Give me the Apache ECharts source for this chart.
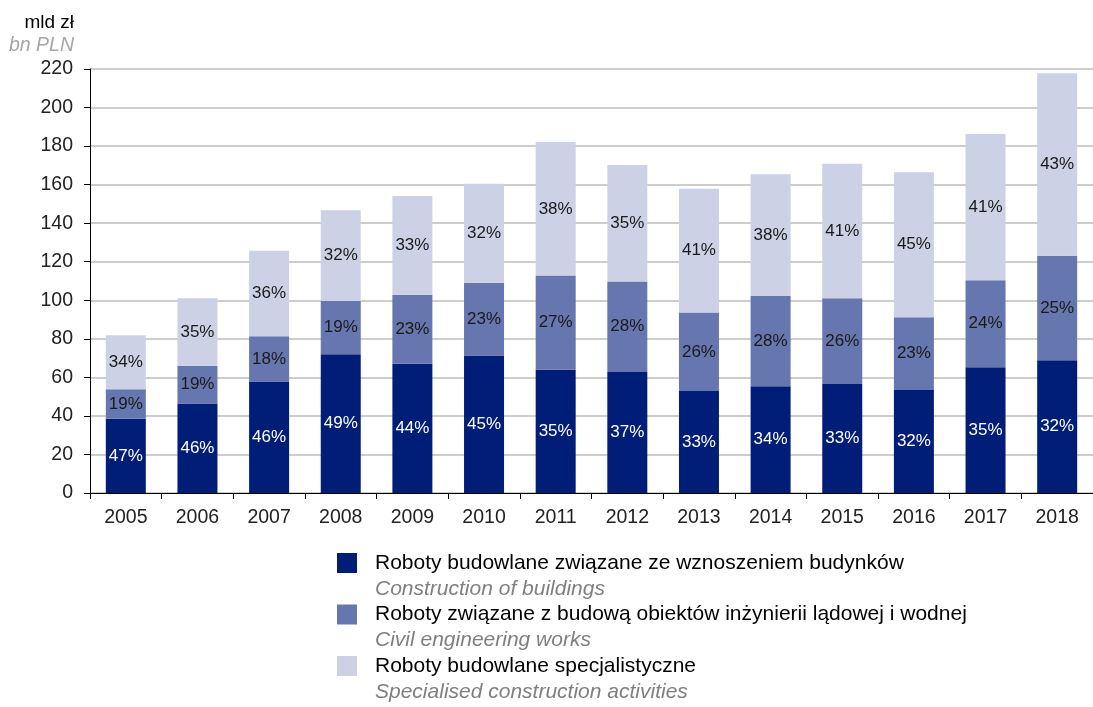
<!DOCTYPE html>
<html>
<head>
<meta charset="utf-8">
<script src="https://cdn.jsdelivr.net/npm/echarts@6/dist/echarts.min.js"></script>
<style>
html,body{margin:0;padding:0;background:#fff;}
#chart{width:1093px;height:707px;}
</style>
</head>
<body>
<div id="chart"></div>
<script>
var years = ['2005','2006','2007','2008','2009','2010','2011','2012','2013','2014','2015','2016','2017','2018'];
var buildings = [38.5, 46.5, 57.8, 72.0, 67.1, 71.4, 64.0, 62.8, 52.9, 55.4, 56.6, 53.5, 65.2, 68.9];
var civil = [15.3, 19.4, 23.5, 27.6, 35.8, 37.7, 48.8, 47.0, 40.7, 46.8, 44.4, 37.7, 45.2, 54.2];
var specialised = [28.0, 35.1, 44.4, 47.1, 51.2, 51.3, 69.3, 60.4, 64.3, 63.2, 69.9, 75.2, 75.9, 94.7];
var buildingsPct = ['47%','46%','46%','49%','44%','45%','35%','37%','33%','34%','33%','32%','35%','32%'];
var civilPct = ['19%','19%','18%','19%','23%','23%','27%','28%','26%','28%','26%','23%','24%','25%'];
var specialisedPct = ['34%','35%','36%','32%','33%','32%','38%','35%','41%','38%','41%','45%','41%','43%'];
var seriesNamesPL = ['Roboty budowlane związane ze wznoszeniem budynków','Roboty związane z budową obiektów inżynierii lądowej i wodnej','Roboty budowlane specjalistyczne'];
var seriesNamesEN = ['Construction of buildings','Civil engineering works','Specialised construction activities'];
var yTicks = [0,20,40,60,80,100,120,140,160,180,200,220];

var FONT = '"Liberation Sans", Arial, sans-serif';
var colors = ['#001E78', '#6676AE', '#CCD1E5'];
var pctArrays = [buildingsPct, civilPct, specialisedPct];
var valArrays = [buildings, civil, specialised];
var labelColors = ['#ffffff', '#1a1a1a', '#1a1a1a'];

var chart = echarts.init(document.getElementById('chart'), null, {renderer: 'canvas'});

var series = valArrays.map(function (arr, si) {
  return {
    name: seriesNamesPL[si],
    type: 'bar',
    stack: 'total',
    barWidth: 40,
    data: arr,
    itemStyle: {color: colors[si]},
    label: {
      show: true,
      position: 'inside',
      fontFamily: FONT,
      fontSize: 17,
      color: labelColors[si],
      formatter: function (p) { return pctArrays[si][p.dataIndex]; }
    },
    emphasis: {disabled: true}
  };
});

var enMap = {};
seriesNamesPL.forEach(function (n, i) { enMap[n] = seriesNamesEN[i]; });

chart.setOption({
  animation: false,
  grid: {left: 90, right: -8, top: 69, bottom: 214, containLabel: false},
  xAxis: {
    type: 'category',
    data: years,
    axisLine: {lineStyle: {color: '#000', width: 1}},
    axisTick: {show: true, length: 6, alignWithLabel: false, lineStyle: {color: '#000'}},
    axisLabel: {fontFamily: FONT, fontSize: 19.5, color: '#222', margin: 15}
  },
  yAxis: {
    type: 'value',
    min: 0,
    max: 220,
    interval: 20,
    name: '{a|mld zł}\n{b|bn PLN}',
    nameLocation: 'end',
    nameGap: 12,
    nameTextStyle: {
      align: 'right',
      verticalAlign: 'bottom',
      padding: [0, 16, 0, 0],
      rich: {
        a: {fontFamily: FONT, fontSize: 19, color: '#000', lineHeight: 23, align: 'right'},
        b: {fontFamily: FONT, fontSize: 19.5, color: '#a6a6a6', fontStyle: 'italic', lineHeight: 23, align: 'right'}
      }
    },
    axisLine: {show: true, lineStyle: {color: '#000', width: 1}},
    axisTick: {show: true, length: 6, lineStyle: {color: '#000'}},
    axisLabel: {
      fontFamily: FONT, fontSize: 19.5, color: '#222', margin: 17,
      formatter: function (v) { return yTicks.indexOf(v) >= 0 ? String(v) : ''; }
    },
    splitLine: {show: true, lineStyle: {color: '#bdbdbd', width: 1.5}}
  },
  legend: {
    orient: 'vertical',
    left: 337,
    top: 527,
    height: 300,
    padding: 0,
    itemWidth: 20,
    itemHeight: 20,
    itemGap: -21,
    icon: 'rect',
    selectedMode: false,
    data: seriesNamesPL,
    formatter: function (name) {
      return '{e| }\n{a|' + name + '}\n{b|' + enMap[name] + '}';
    },
    textStyle: {
      padding: [0, 0, 0, 13],
      rich: {
        e: {fontFamily: FONT, fontSize: 20, lineHeight: 26},
        a: {fontFamily: FONT, fontSize: 21, lineHeight: 26, color: '#000'},
        b: {fontFamily: FONT, fontSize: 21, lineHeight: 26, color: '#7f7f7f', fontStyle: 'italic'}
      }
    }
  },
  series: series
});
</script>
</body>
</html>
